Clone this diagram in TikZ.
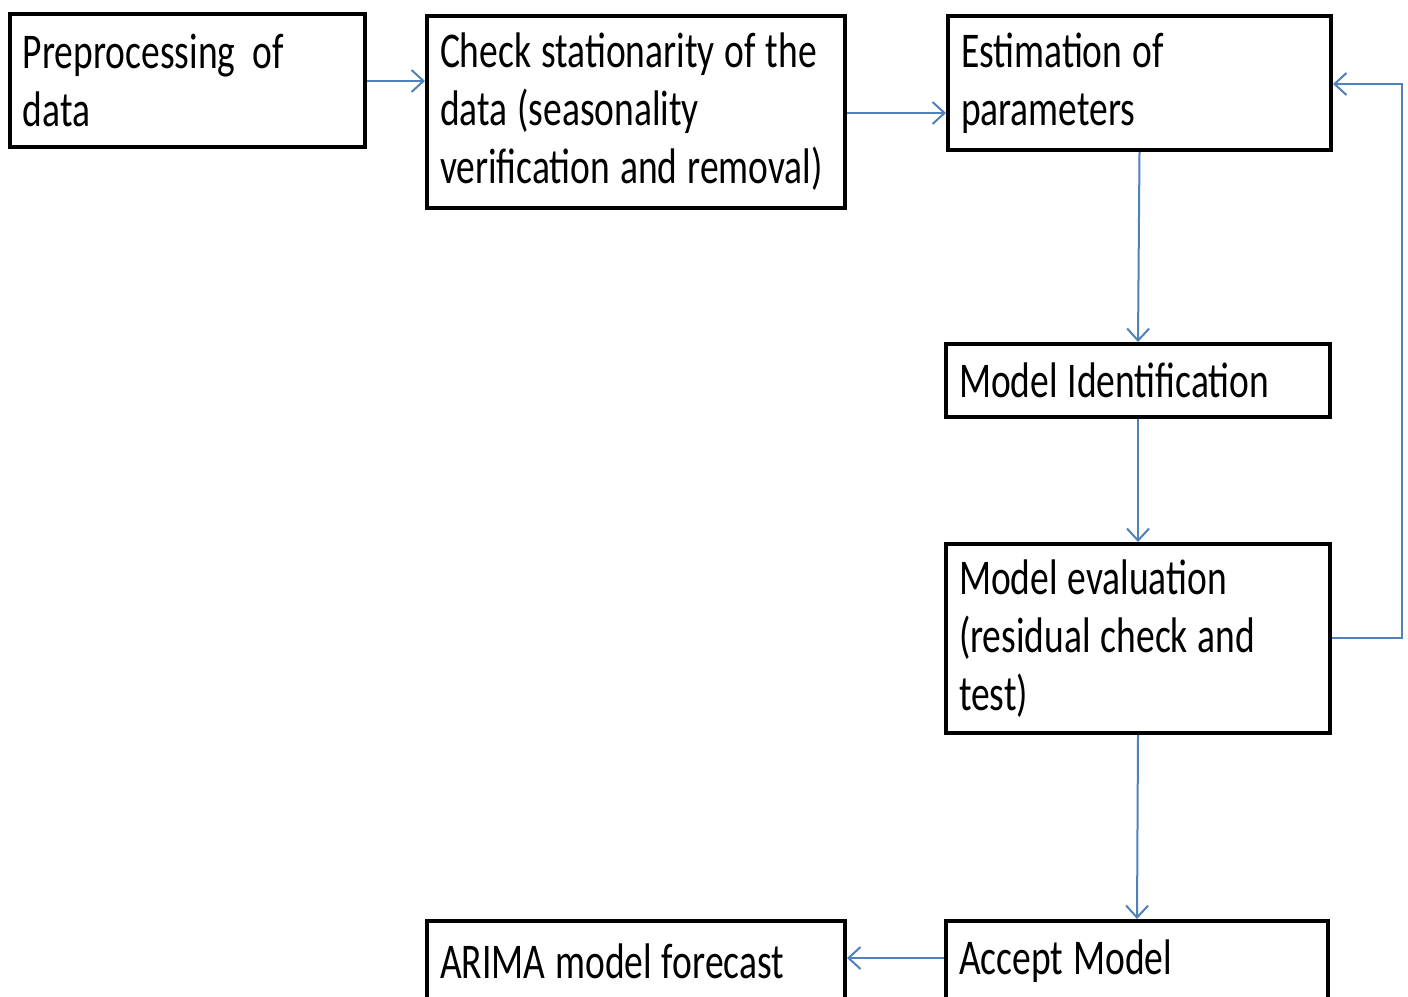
\documentclass[tikz,border=0pt]{standalone}
\usepackage{fontspec}
\setmainfont{Carlito}[FakeStretch=0.75]
\usetikzlibrary{arrows.meta}
\definecolor{flowblue}{HTML}{4F81BD}
\tikzset{
  box/.style={draw=black, line width=4pt, fill=white, align=left, inner xsep=13pt, inner ysep=0pt,
    font=\fontsize{50}{58}\selectfont,
    execute at begin node={\spaceskip=0.2em\relax\hyphenpenalty=10000\relax}},
  flow/.style={draw=flowblue, line width=2pt, -{Straight Barb[length=12pt,width=22pt,line width=2pt]}},
}
\begin{document}
\begin{tikzpicture}[x=1pt,y=-1pt]
\useasboundingbox (0,0) rectangle (1408,996);
\fill[white] (0,0) rectangle (1408,996);
\begin{scope}
\clip (0,0) rectangle (1408,996);
\node[box, text width=329pt, minimum height=133pt] (pre) at (187.5,80.5) {Preprocessing\hspace{0.35em}of\\data};
\node[box, text width=392pt, minimum height=192pt] (chk) at (636,112) {Check stationarity of the\\data (seasonality\\verification and removal)};
\node[box, text width=357pt, minimum height=134pt] (est) at (1139.5,83) {Estimation of\\parameters};
\node[box, text width=358pt, minimum height=73pt] (ident) at (1138,380.5) {Model Identification};
\node[box, text width=358pt, minimum height=189pt] (eval) at (1138,638.5) {Model evaluation\\(residual check and\\test)};
\node[box, text width=356pt, minimum height=80pt] (acc) at (1137,961) {Accept Model};
\node[box, text width=392pt, minimum height=80pt] (arima) at (636,961) {ARIMA model forecast};
\end{scope}
\coordinate (fbR) at (1402,638);
\draw[flow] (pre.east |- 0,81) -- (chk.west |- 0,81);
\draw[flow] (chk.east |- 0,113) -- (est.west |- 0,113);
\draw[flow] (est.south) -- (ident.north);
\draw[flow] (ident.south) -- (eval.north);
\draw[flow] (eval.south) -- (acc.north);
\draw[flow] (eval.east |- fbR) -- (fbR) |- (est.east |- 0,84);
\draw[flow] (acc.west |- 0,958) -- (arima.east |- 0,958);
\end{tikzpicture}
\end{document}
